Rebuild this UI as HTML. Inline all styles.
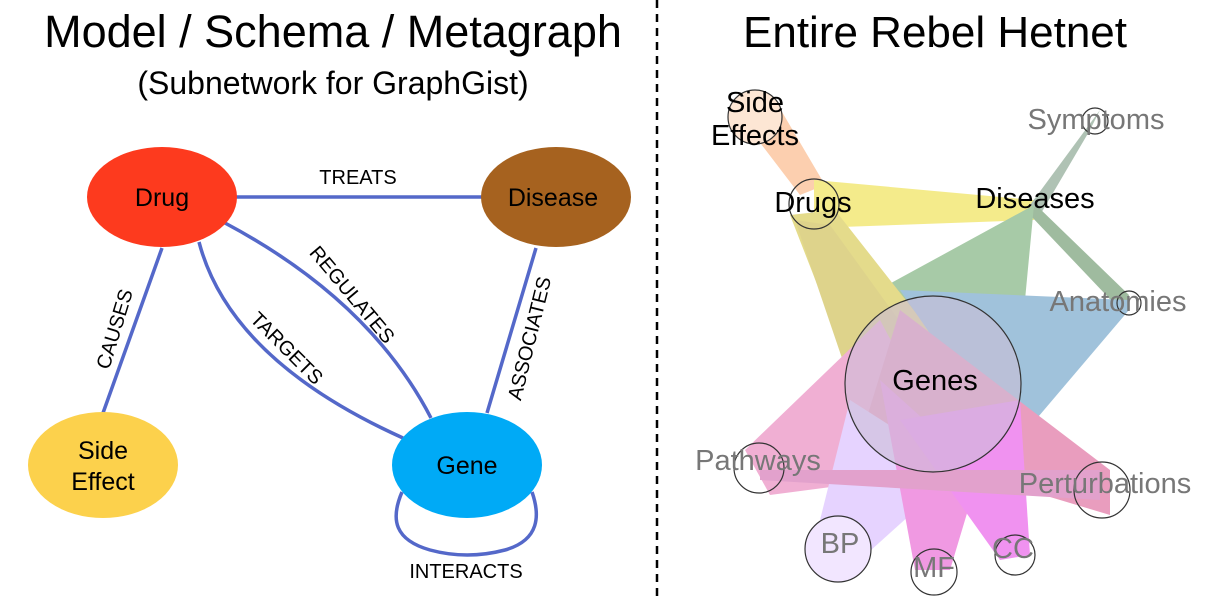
<!DOCTYPE html>
<html><head><meta charset="utf-8"><style>
html,body{margin:0;padding:0;background:#fff;}
svg{display:block;font-family:"Liberation Sans",sans-serif;}
</style></head><body>
<svg width="1219" height="599" viewBox="0 0 1219 599" xmlns="http://www.w3.org/2000/svg">
<text x="333" y="47" font-size="45" text-anchor="middle">Model / Schema / Metagraph</text>
<text x="333" y="94" font-size="32" text-anchor="middle">(Subnetwork for GraphGist)</text>
<text x="935" y="47" font-size="44" text-anchor="middle">Entire Rebel Hetnet</text>
<line x1="657" y1="0" x2="657" y2="599" stroke="#000" stroke-width="2.5" stroke-dasharray="8,6"/>

<g stroke="#5468c9" stroke-width="3.5" fill="none">
<line x1="230" y1="197" x2="485" y2="197"/>
<line x1="162" y1="248" x2="103" y2="413"/>
<line x1="536" y1="248" x2="487" y2="413"/>
<path d="M225 223 Q370 300 431 418"/>
<path d="M199 242 Q230 360 403 438"/>
<path d="M402 492 C390 520 395 540 430 550 Q467 560 505 550 C540 540 540 515 532 492"/>
</g>
<ellipse cx="162" cy="197" rx="75" ry="50" fill="#fd3a1e"/>
<ellipse cx="556" cy="197" rx="75" ry="50" fill="#a6621f"/>
<ellipse cx="103" cy="465" rx="75" ry="53" fill="#fcd14c"/>
<ellipse cx="467" cy="465" rx="75" ry="53" fill="#00aaf6"/>
<g font-size="25" text-anchor="middle">
<text x="162" y="206">Drug</text>
<text x="553" y="206">Disease</text>
<text x="103" y="459">Side</text>
<text x="103" y="490">Effect</text>
<text x="467" y="474">Gene</text>
</g>
<g font-size="20" text-anchor="middle">
<text x="358" y="184">TREATS</text>
<text x="466" y="578">INTERACTS</text>
<text transform="translate(121,331) rotate(-73)">CAUSES</text>
<text transform="translate(347,299) rotate(50)">REGULATES</text>
<text transform="translate(282,353) rotate(45)">TARGETS</text>
<text transform="translate(536,340) rotate(-76)">ASSOCIATES</text>
</g>

<!-- right hetnet -->
<g opacity="0.45">
<polygon points="735,110 775,100 825,185 800,195" fill="#f9964f"/>
<polygon points="814,180 1034,200 1034,220 814,228" fill="#e8d400"/>
<polygon points="1030,205 1100,110 1090,130 1040,215" fill="#4f7a5a"/>
<polygon points="1036,205 1129,295 1125,315 1030,215" fill="#2c6a2c"/>
<polygon points="1034,205 860,300 1010,460 1025,300" fill="#3d8b3d"/>
<polygon points="790,215 835,210 1000,420 870,420" fill="#c4b000"/>
<polygon points="795,220 830,225 1000,460 880,470" fill="#b8a000"/>
<polygon points="1129,300 900,290 1010,450 1129,310" fill="#2f7ab0"/>
<polygon points="745,450 880,320 960,470 770,495" fill="#e050a0"/>
<polygon points="1110,470 900,310 860,440 1110,515" fill="#d02870"/>
<polygon points="815,540 850,400 960,470 860,560" fill="#c8a0ff"/>
<polygon points="915,570 880,380 980,470 950,570" fill="#e020c0"/>
<polygon points="1000,560 900,420 1020,400 1030,555" fill="#e010e0"/>
<polygon points="760,470 1100,470 1100,500 760,480" fill="#c03090"/>
<circle cx="933" cy="384" r="88" fill="#9070a8" opacity="0.6"/>
</g>
<g fill="none" stroke="#333" stroke-width="1.2">
<circle cx="755" cy="117" r="27" fill="#fde6d4"/>
<circle cx="814" cy="204" r="25"/>
<circle cx="1095" cy="121" r="13"/>
<circle cx="1129" cy="303" r="12"/>
<circle cx="933" cy="384" r="88"/>
<circle cx="759" cy="468" r="25"/>
<circle cx="1102" cy="490" r="28"/>
<circle cx="838" cy="549" r="33" fill="#f2e6ff"/>
<circle cx="934" cy="572" r="23"/>
<circle cx="1015" cy="555" r="20"/>
</g>
<g font-size="29" text-anchor="middle">
<text x="755" y="112">Side</text>
<text x="755" y="145">Effects</text>
<text x="813" y="212">Drugs</text>
<text x="1035" y="208">Diseases</text>
<text x="935" y="390">Genes</text>
</g>
<g font-size="29" text-anchor="middle" fill="#777">
<text x="1096" y="129">Symptoms</text>
<text x="1118" y="311">Anatomies</text>
<text x="758" y="470">Pathways</text>
<text x="1105" y="493">Perturbations</text>
<text x="840" y="553">BP</text>
<text x="934" y="577">MF</text>
<text x="1013" y="558">CC</text>
</g>
</svg>
</body></html>
